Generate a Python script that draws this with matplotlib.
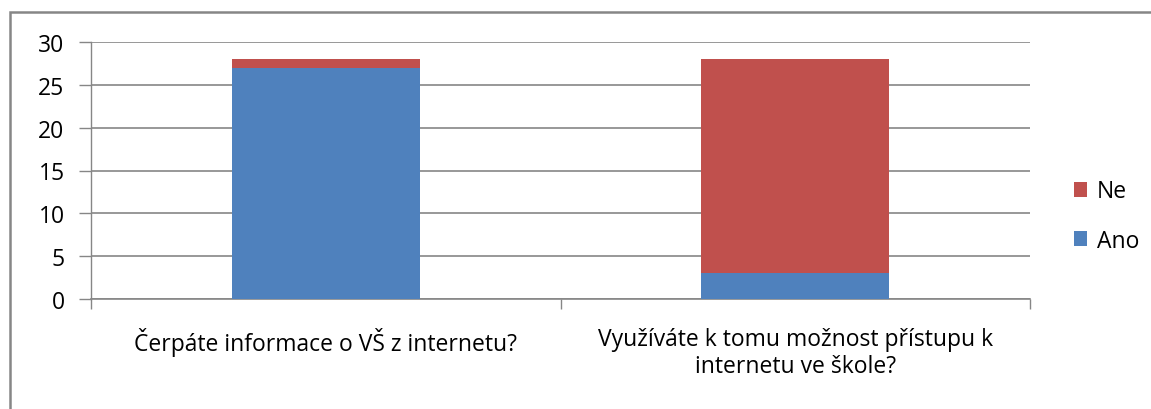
import matplotlib.pyplot as plt
from matplotlib.patches import Rectangle

# Data
categories = ["Čerpáte informace o VŠ z internetu?",
              "Využíváte k tomu možnost přístupu k\ninternetu ve škole?"]
ano = [27, 3]
ne = [1, 25]

plt.rcParams['font.family'] = ['Open Sans', 'DejaVu Sans']

fig = plt.figure(figsize=(11.51, 4.10), dpi=100)
W, H = 1151, 410
ax = fig.add_axes([91 / W, 1 - 300 / H, (1030 - 91) / W, (300 - 43) / H])

x = [0, 1]
blue = '#4f81bd'
red = '#c0504d'
ax.bar(x, ano, width=0.4, color=blue, label='Ano', zorder=3)
ax.bar(x, ne, width=0.4, bottom=ano, color=red, label='Ne', zorder=3)

ax.set_xlim(-0.5, 1.5)
ax.set_ylim(0, 30)
ax.set_yticks(range(0, 31, 5))
ax.yaxis.grid(True, color='#868686', linewidth=1.2, zorder=0)
ax.tick_params(axis='y', length=9, color='#868686', width=1, labelsize=16.5, pad=10)
ax.set_xticks([-0.5, 0.5, 1.5], minor=False)
ax.set_xticklabels([])
ax.tick_params(axis='x', which='major', length=7, color='#868686', width=1)
ax.set_xticks(x, minor=True)
ax.set_xticklabels(categories, minor=True, fontsize=16.5, linespacing=1.2)
ax.tick_params(axis='x', which='minor', length=0, pad=20)
for lbl in ax.get_xticklabels(minor=True):
    lbl.set_verticalalignment('top')

for side in ['top', 'right']:
    ax.spines[side].set_visible(False)
ax.spines['left'].set_color('#868686')
ax.spines['bottom'].set_color('#868686')
ax.spines['left'].set_linewidth(1)
ax.spines['bottom'].set_linewidth(1.2)

handles, labels = ax.get_legend_handles_labels()
fig.legend(handles[::-1], labels[::-1], loc='center left',
           bbox_to_anchor=(1053 / W, 1 - 217 / H), frameon=False,
           fontsize=16.5, handlelength=0.6, handleheight=0.6,
           labelspacing=1.1, handletextpad=0.4)

# outer chart border
fig.patches.append(Rectangle((10 / W, -0.1), 1.2, 1 - 13 / H + 0.1,
                             transform=fig.transFigure, fill=False,
                             edgecolor='#868686', linewidth=1.8))

fig.savefig('out.png', dpi=100)
